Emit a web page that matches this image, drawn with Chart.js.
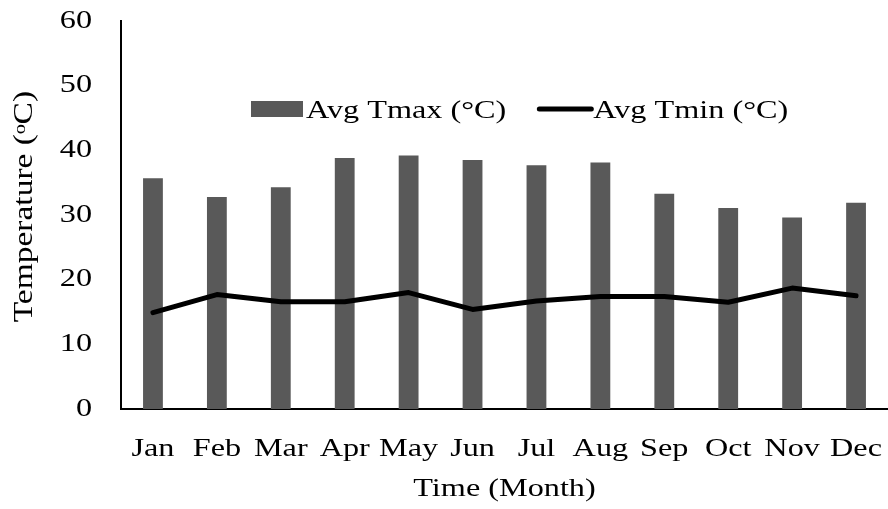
<!DOCTYPE html>
<html>
<head>
<meta charset="utf-8">
<script src="https://cdn.jsdelivr.net/npm/chart.js@4"></script>
<style>
  html, body { margin: 0; padding: 0; background: #fff; overflow: hidden; }
  #wrap { width: 888px; height: 509px; }
</style>
</head>
<body>
<div id="wrap"><canvas id="chart"></canvas></div>
<script>
const months = ['Jan', 'Feb', 'Mar', 'Apr', 'May', 'Jun', 'Jul', 'Aug', 'Sep', 'Oct', 'Nov', 'Dec'];
const avgTmax = [35.7, 32.8, 34.3, 38.8, 39.2, 38.5, 37.7, 38.1, 33.3, 31.1, 29.6, 31.9];
const avgTmin = [14.9, 17.7, 16.6, 16.6, 18.0, 15.4, 16.7, 17.4, 17.4, 16.5, 18.7, 17.5];
const yTicks = [0, 10, 20, 30, 40, 50, 60];

const FONT = '"Liberation Serif", "Times New Roman", serif';
const WIDE = 1.24; // the source glyphs are drawn wider than normal Times

// stretch every glyph along its own baseline (rotated titles too)
const wideText = {
  id: 'wideText',
  beforeInit(chart) {
    const ctx = chart.ctx;
    const fill = ctx.fillText.bind(ctx);
    const measure = ctx.measureText.bind(ctx);
    ctx.fillText = (text, x, y) => {
      ctx.save();
      ctx.translate(x, y);
      ctx.scale(WIDE, 1);
      fill(text, 0, 0);
      ctx.restore();
    };
    ctx.measureText = (text) => {
      const m = measure(text);
      return {
        width: m.width * WIDE,
        actualBoundingBoxLeft: m.actualBoundingBoxLeft * WIDE,
        actualBoundingBoxRight: m.actualBoundingBoxRight * WIDE,
        actualBoundingBoxAscent: m.actualBoundingBoxAscent,
        actualBoundingBoxDescent: m.actualBoundingBoxDescent
      };
    };
  }
};

// legend sits inside the plot, Excel style
const insideLegend = {
  id: 'insideLegend',
  afterDraw(chart) {
    const { ctx, chartArea } = chart;
    const ds = chart.data.datasets;
    ctx.save();
    ctx.font = '26px ' + FONT;
    ctx.textBaseline = 'middle';
    const y = chartArea.top + 88;
    let x = chartArea.left + 130;

    // bar item
    ctx.fillStyle = ds[0].backgroundColor;
    ctx.fillRect(x, y - 8, 52, 16);
    x += 55;
    ctx.fillStyle = '#000';
    ctx.fillText(ds[0].label, x, y + 2);
    x += ctx.measureText(ds[0].label).width + 31;

    // line item
    ctx.strokeStyle = ds[1].borderColor;
    ctx.lineWidth = 5;
    ctx.lineCap = 'round';
    ctx.beginPath();
    ctx.moveTo(x + 2, y);
    ctx.lineTo(x + 54, y);
    ctx.stroke();
    x += 56;
    ctx.fillText(ds[1].label, x, y + 2);
    ctx.restore();
  }
};

new Chart(document.getElementById('chart'), {
  type: 'bar',
  data: {
    labels: months,
    datasets: [
      {
        type: 'bar',
        label: 'Avg Tmax (°C)',
        data: avgTmax,
        backgroundColor: '#595959',
        borderWidth: 0,
        categoryPercentage: 1,
        barPercentage: 0.31,
        order: 2
      },
      {
        type: 'line',
        label: 'Avg Tmin (°C)',
        data: avgTmin,
        borderColor: '#000',
        borderWidth: 5,
        borderJoinStyle: 'round',
        borderCapStyle: 'round',
        pointRadius: 0,
        tension: 0,
        fill: false,
        order: 1
      }
    ]
  },
  options: {
    responsive: true,
    maintainAspectRatio: false,
    animation: false,
    layout: { autoPadding: false, padding: { top: 21, left: 0, right: 0, bottom: 0 } },
    plugins: {
      legend: { display: false },
      tooltip: { enabled: false }
    },
    scales: {
      x: {
        afterFit: (scale) => {
          scale.height = 100;
          scale.paddingLeft = 0;
          scale.paddingRight = 0;
        },
        grid: { display: false, drawTicks: false },
        border: { display: true, color: '#000', width: 2 },
        ticks: { color: '#000', padding: 25, font: { family: FONT, size: 26 }, maxRotation: 0, autoSkip: false },
        title: { display: true, text: 'Time (Month)', color: '#000', font: { family: FONT, size: 26 }, padding: { top: 0, bottom: 4 } }
      },
      y: {
        min: 0,
        max: 60,
        afterBuildTicks: (scale) => { scale.ticks = yTicks.map(v => ({ value: v })); },
        afterFit: (scale) => {
          scale.width = 121;
          scale.paddingTop = 0;
          scale.paddingBottom = 0;
        },
        grid: { display: false, drawTicks: false },
        border: { display: true, color: '#000', width: 2 },
        ticks: { color: '#000', padding: 29, font: { family: FONT, size: 26 } },
        // two leading spaces lift the title a little, as in the source
        title: { display: true, text: '\u00a0\u00a0Temperature (ᵒC)', color: '#000', font: { family: FONT, size: 27 }, padding: { top: 9, bottom: 0 } }
      }
    }
  },
  plugins: [wideText, insideLegend]
});
</script>
</body>
</html>
